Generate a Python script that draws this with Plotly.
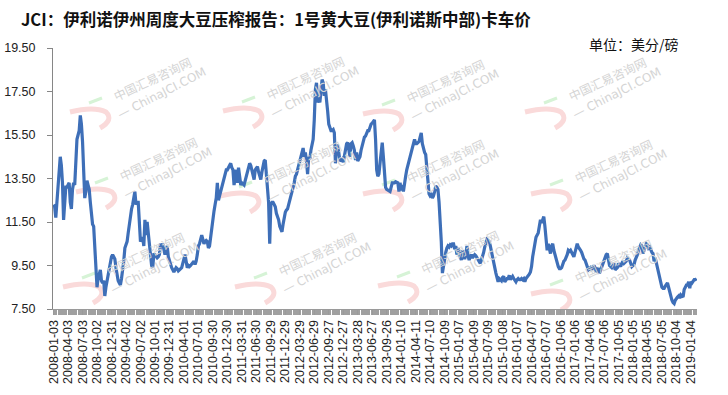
import plotly.graph_objects as go

title_text = "JCI：伊利诺伊州周度大豆压榨报告：1号黄大豆(伊利诺斯中部)卡车价"
unit_text = "单位：美分/磅"

tick_labels = [
    "2008-01-03", "2008-04-03", "2008-07-03", "2008-10-02", "2008-12-31",
    "2009-04-02", "2009-07-02", "2009-10-01", "2009-12-31",
    "2010-04-01", "2010-07-01", "2010-09-30", "2010-12-30",
    "2011-03-31", "2011-06-30", "2011-09-29", "2011-12-29",
    "2012-03-29", "2012-06-29", "2012-09-27", "2012-12-27",
    "2013-03-28", "2013-06-27", "2013-09-26", "2014-01-10",
    "2014-04-11", "2014-07-10", "2014-10-09", "2015-01-07",
    "2015-04-09", "2015-07-09", "2015-10-08", "2016-01-07",
    "2016-04-07", "2016-07-07", "2016-10-06", "2017-01-06",
    "2017-04-06", "2017-07-06", "2017-10-05", "2018-01-05",
    "2018-04-05", "2018-07-05", "2018-10-04", "2019-01-04",
]

# weekly price, US cents per pound (one row = 13 weeks)
price = [
    12.3, 12.2, 11.7, 12.3, 13.0, 13.6, 14.5, 14.1, 13.3, 11.6, 12.7, 13.1, 13.1,
    13.2, 13.3, 12.4, 12.1, 13.0, 13.3, 13.2, 14.6, 15.3, 15.5, 15.7, 16.4, 16.0,
    15.2, 14.0, 12.6, 12.9, 13.4, 13.2, 13.0, 12.4, 11.8, 11.4, 11.3, 10.3, 9.3,
    8.5, 8.9, 9.2, 9.3, 8.8, 8.7, 8.8, 8.1, 8.5, 8.8, 9.0, 9.4, 9.7,
    9.9, 10.0, 9.9, 9.8, 9.4, 9.0, 8.8, 8.7, 8.6, 8.9, 9.2, 9.7, 10.3,
    10.5, 10.6, 11.0, 11.4, 11.9, 12.1, 12.3, 12.6, 12.9, 12.3, 12.4, 12.4, 11.6,
    10.6, 10.7, 10.8, 10.4, 11.6, 10.9, 11.5, 11.0, 10.5, 9.8, 9.5, 9.4, 10.0,
    10.0, 9.9, 9.85, 9.9, 10.0, 10.5, 10.3, 10.5, 10.3, 10.0, 10.2, 10.4, 9.9,
    9.7, 9.6, 9.4, 9.3, 9.2, 9.3, 9.4, 9.35, 9.25, 9.3, 9.35, 9.4, 9.6,
    9.85, 10.0, 9.7, 9.4, 9.5, 9.45, 9.5, 9.55, 9.6, 9.7, 9.55, 9.7, 10.0,
    10.4, 10.5, 10.65, 10.9, 10.7, 10.5, 10.6, 10.65, 10.6, 10.3, 10.4, 10.8, 11.4,
    11.8, 12.0, 12.3, 12.6, 13.3, 12.5, 12.7, 12.9, 13.1, 13.4, 13.5, 13.7, 13.9,
    13.9, 14.0, 14.1, 14.2, 14.0, 13.9, 13.2, 13.6, 13.9, 13.3, 14.0, 13.6, 13.2,
    13.3, 13.25, 13.2, 13.4, 13.6, 13.85, 14.0, 14.2, 14.1, 13.9, 13.6, 13.45, 13.9,
    13.95, 14.05, 13.8, 13.6, 13.45, 13.8, 14.1, 14.3, 14.35, 13.6, 12.8, 12.4, 10.5,
    12.3, 12.4, 12.4, 12.3, 12.2, 11.9, 11.75, 11.6, 11.3, 11.2, 11.05, 11.4, 11.75,
    11.95, 12.05, 12.1, 12.3, 12.5, 12.6, 12.8, 13.0, 13.3, 13.6, 13.7, 13.9, 14.1,
    14.3, 14.6, 14.8, 14.9, 14.5, 14.7, 14.3, 13.7, 14.5, 14.4, 14.8, 15.0, 15.3,
    16.2, 17.6, 17.9, 17.0, 17.1, 17.0, 17.5, 18.05, 17.9, 17.3, 17.6, 17.2, 16.6,
    16.0, 15.8, 15.7, 15.7, 15.75, 15.6, 14.2, 15.0, 15.0, 14.7, 14.3, 14.35, 14.4,
    14.25, 14.6, 15.0, 15.1, 15.15, 14.85, 14.5, 15.1, 15.15, 15.0, 14.8, 14.35, 14.7,
    14.3, 14.4, 14.5, 14.8, 15.0, 15.2, 15.4, 15.45, 15.55, 15.7, 15.7, 15.9, 16.0,
    16.05, 16.15, 16.2, 15.3, 13.9, 13.6, 13.7, 14.2, 14.8, 15.15, 14.5, 13.5, 13.1,
    13.0, 12.95, 12.9, 12.9, 13.1, 13.3, 13.3, 13.3, 13.35, 13.3, 13.3, 12.9, 13.3,
    12.95, 13.2, 12.9, 13.4, 13.6, 13.9, 14.1, 14.3, 14.5, 14.7, 14.9, 15.1, 15.3,
    15.1, 15.1, 15.15, 15.2, 15.4, 15.6, 15.1, 14.8, 14.7, 14.6, 13.9, 13.4, 12.8,
    12.7, 12.75, 12.6, 12.7, 12.9, 13.15, 13.1, 13.0, 12.4, 11.6, 10.6, 9.15, 9.5,
    9.9, 10.1, 10.3, 10.4, 10.35, 10.45, 10.4, 10.5, 10.5, 10.25, 10.4, 10.0, 10.3,
    10.05, 9.9, 9.75, 10.2, 9.95, 9.8, 10.0, 10.4, 9.95, 9.75, 9.9, 10.0, 9.85,
    9.9, 10.0, 9.95, 9.85, 9.75, 9.65, 9.6, 9.75, 9.9, 10.1, 10.35, 10.5, 10.7,
    10.65, 10.6, 10.4, 10.1, 9.9, 9.6, 9.4, 9.15, 9.0, 8.75, 8.9, 8.85, 8.8,
    8.95, 9.0, 8.75, 8.85, 8.9, 8.9, 9.05, 8.85, 8.95, 9.0, 8.9, 8.85, 8.75,
    8.85, 8.9, 8.85, 8.85, 8.9, 8.85, 8.9, 8.75, 8.9, 8.95, 9.0, 9.1, 9.2,
    9.45, 9.9, 10.3, 10.5, 10.8, 10.9, 11.0, 11.3, 11.6, 11.45, 11.6, 11.75, 11.3,
    10.7, 10.2, 10.5, 10.2, 10.05, 10.4, 10.5, 10.2, 10.0, 9.75, 9.6, 9.45, 9.35,
    9.35, 9.4, 9.6, 9.7, 9.75, 9.85, 10.0, 10.2, 10.15, 10.2, 10.1, 10.05, 9.9,
    10.1, 10.3, 10.5, 10.35, 10.3, 10.2, 10.1, 9.9, 9.8, 9.75, 9.6, 9.5, 9.3,
    9.35, 9.4, 9.3, 9.45, 9.5, 9.4, 9.2, 9.3, 9.4, 9.15, 9.3, 9.45, 9.6,
    9.75, 9.9, 10.0, 10.05, 9.75, 9.5, 9.45, 9.4, 9.5, 9.6, 9.3, 9.35, 9.4,
    9.6, 9.55, 9.45, 9.6, 9.7, 9.6, 9.65, 9.7, 9.85, 9.8, 9.75, 9.6, 9.45,
    9.5, 9.55, 9.75, 9.85, 10.0, 10.2, 10.35, 10.45, 10.4, 10.05, 10.2, 10.35, 10.5,
    10.45, 10.3, 10.35, 10.2, 10.1, 10.05, 9.7, 9.85, 9.6, 9.4, 9.15, 8.9, 8.75,
    8.5, 8.45, 8.45, 8.55, 8.6, 8.7, 8.5, 8.3, 8.05, 7.9, 7.8, 7.75, 7.9,
    8.0, 8.05, 8.1, 8.0, 8.15, 8.1, 8.05, 8.4, 8.55, 8.6, 8.6, 8.75, 8.45,
    8.75, 8.7, 8.8, 8.85, 8.85, 8.9,
]

week = list(range(len(price)))
label_step = 13
tick_pos = [k * label_step for k in range(len(tick_labels))]

# ---- layout geometry (pixels) ----
W, H = 728, 395
ML, MR, MT, MB = 53, 31, 48, 86
PW, PH = W - ML - MR, H - MT - MB


def px(x):
    return (x - ML) / PW


def py(y):
    return (H - MB - y) / PH


fig = go.Figure()
fig.add_trace(go.Scatter(
    x=week, y=price, mode="lines",
    line=dict(color="#3E6FB8", width=3.2),
    hoverinfo="skip", showlegend=False,
))

# ---- faint watermark (decoration of the source image) ----
wm_centers = [(152, 78), (305, 77), (445, 80), (607, 78),
              (158, 158), (302, 162), (445, 160), (613, 160),
              (145, 253), (317, 253), (460, 252), (613, 260)]
annotations = []
shapes = []
for cx, cy in wm_centers:
    annotations.append(dict(
        text="中国汇易咨询网", xref="paper", yref="paper",
        x=px(cx), y=py(cy), xanchor="center", yanchor="middle",
        textangle=-25, showarrow=False,
        font=dict(family="Noto Sans CJK SC", size=12, color="#d4d4d4")))
    annotations.append(dict(
        text="— ChinaJCI.COM", xref="paper", yref="paper",
        x=px(cx + 10), y=py(cy + 15), xanchor="center", yanchor="middle",
        textangle=-27, showarrow=False,
        font=dict(family="DejaVu Sans", size=12, color="#d4d4d4")))
    shapes.append(dict(
        type="line", xref="paper", yref="paper", layer="below",
        x0=px(cx - 63), y0=py(cy + 25), x1=px(cx - 50), y1=py(cy + 20),
        line=dict(color="#d6f3d6", width=3)))
    x0, y0 = cx - 82, cy + 34
    path = (f"M {px(x0)} {py(y0)} "
            f"Q {px(cx - 58)} {py(cy + 28)} {px(cx - 46)} {py(cy + 34)} "
            f"Q {px(cx - 38)} {py(cy + 42)} {px(cx - 52)} {py(cy + 50)}")
    shapes.append(dict(
        type="path", xref="paper", yref="paper", layer="below", path=path,
        line=dict(color="#fadada", width=5)))

annotations.append(dict(
    text=f"<b>{title_text}</b>", xref="paper", yref="paper",
    x=px(19), y=py(19), xanchor="left", yanchor="middle", showarrow=False,
    font=dict(family="Noto Sans CJK SC", size=16.5, color="#111")))
annotations.append(dict(
    text=unit_text, xref="paper", yref="paper",
    x=px(681), y=py(44), xanchor="right", yanchor="middle", showarrow=False,
    font=dict(family="Noto Sans CJK SC", size=14, color="#111")))

fig.update_layout(
    width=W, height=H,
    margin=dict(l=ML, r=MR, t=MT, b=MB),
    paper_bgcolor="white", plot_bgcolor="rgba(0,0,0,0)",
    showlegend=False,
    xaxis=dict(
        range=[-0.5, len(price) - 0.5], automargin=False,
        tickmode="array", tickvals=tick_pos, ticktext=tick_labels,
        tickangle=-90,
        tickfont=dict(family="Liberation Sans, Arial", size=12.5, color="#222"),
        ticks="outside", ticklen=5, tickcolor="#9a9a9a", tickwidth=1,
        minor=dict(tickmode="linear", tick0=0, dtick=1, ticks="outside",
                   ticklen=5, tickcolor="#a0a0a0", tickwidth=1, showgrid=False),
        showline=True, linecolor="#9a9a9a", linewidth=1,
        showgrid=False, zeroline=False,
    ),
    yaxis=dict(
        range=[7.5, 19.5], tickmode="linear", tick0=7.5, dtick=2, automargin=False,
        tickformat=".2f",
        tickfont=dict(family="Liberation Sans, Arial", size=12.5, color="#222"),
        ticks="outside", ticklen=5, tickcolor="#868686",
        ticklabelstandoff=9,
        showline=True, linecolor="#868686", linewidth=1,
        showgrid=False, zeroline=False,
    ),
    annotations=annotations,
    shapes=shapes,
)

fig.write_html("out.html", config={"displayModeBar": False},
               post_script="document.body.style.margin='0';")
